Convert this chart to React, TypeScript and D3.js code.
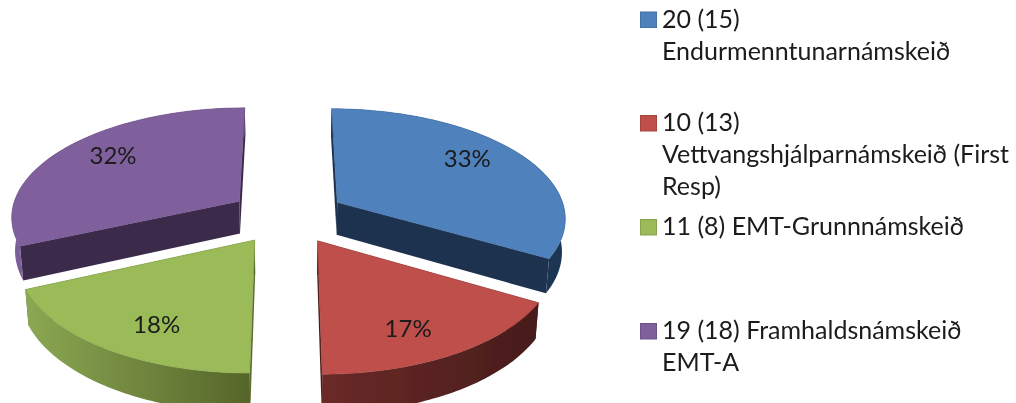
import { useEffect, useRef } from "react"
import * as d3 from "d3"

const categories = ["20 (15) Endurmenntunarnámskeið", "10 (13) Vettvangshjálparnámskeið (First Resp)", "11 (8) EMT-Grunnnámskeið", "19 (18) Framhaldsnámskeið EMT-A"]
const values = [20, 10, 11, 19]
const legendLines = [
  ["20 (15)", "Endurmenntunarnámskeið"],
  ["10 (13)", "Vettvangshjálparnámskeið (First", "Resp)"],
  ["11 (8) EMT-Grunnnámskeið"],
  ["19 (18) Framhaldsnámskeið", "EMT-A"],
]
const legendBaselines = [27.5, 131, 235, 339]
const topColors = ["#4F81BD", "#BE4F4B", "#9BBB59", "#7F609C"]
const radialWall = ["#1F3350", "#4A1F1D", "#5A6B2E", "#3B2A4A"]
const outerWallFrom = ["#1F3552", "#6A2A28", "#8BA853", "#7A5F9A"]
const outerWallTo = ["#1F3552", "#471C1B", "#566529", "#5F4680"]
const labelNudge = [[5, -10], [1, 13], [-1, 12], [-6, -9]]

const W = 1016
const H = 403
const cx = 287.5
const cy = 216
const rx = 229
const ry = 109
const k = 0.13
const explode = 0.255
const depth = 33
const depthShrink = 0.012

const project = (X: number, Y: number) => {
  const s = 1 / (1 - k * Y)
  return { x: cx + rx * X * s, y: cy + ry * Y * s, s }
}

const App = () => {
  const svgRef = useRef<SVGSVGElement>(null)

  useEffect(() => {
    const svg = d3.select(svgRef.current)
    svg.selectAll("*").remove()
    svg.attr("width", W).attr("height", H)

    const defs = svg.append("defs")
    const blur = defs.append("filter").attr("id", "soft")
    blur.append("feGaussianBlur").attr("stdDeviation", 0.45)

    const pie = d3.pie<number>().sort(null)
    const arcs = pie(values)
    const line = d3.line<[number, number]>()

    const root = svg.append("g").attr("filter", "url(#soft)")

    const slices = arcs.map((a, i) => {
      const mid = (a.startAngle + a.endAngle) / 2
      const ox = Math.sin(mid) * explode
      const oy = -Math.cos(mid) * explode
      const pt = (ang: number, f = 1) => project(ox + Math.sin(ang) * f, oy - Math.cos(ang) * f)
      const angles = d3.range(0, 61).map((t) => a.startAngle + ((a.endAngle - a.startAngle) * t) / 60)
      return { a, i, mid, pt, angles }
    })

    // back slices first so the front ones sit on top
    const order = [0, 3, 1, 2]
    order.forEach((idx) => {
      const { i, pt, angles } = slices[idx]
      const apex = pt(0, 0)
      const rim = angles.map((t) => pt(t))
      const top = (p: { x: number; y: number }): [number, number] => [p.x, p.y]
      const low = (p: { x: number; y: number; s: number }): [number, number] => [
        cx + (p.x - cx) * (1 - depthShrink),
        p.y + depth * p.s,
      ]

      const xs = rim.map((p) => p.x)
      const grad = defs
        .append("linearGradient")
        .attr("id", `wall${i}`)
        .attr("gradientUnits", "userSpaceOnUse")
        .attr("x1", d3.min(xs) as number)
        .attr("x2", d3.max(xs) as number)
        .attr("y1", 0)
        .attr("y2", 0)
      grad.append("stop").attr("offset", 0).attr("stop-color", outerWallFrom[i])
      grad.append("stop").attr("offset", 1).attr("stop-color", outerWallTo[i])

      const g = root.append("g").attr("class", "slice")

      // radial walls
      ;[rim[0], rim[rim.length - 1]].forEach((p) => {
        const quad: [number, number][] = [top(apex), top(p), low(p), low(apex)]
        g.append("path")
          .attr("d", line(quad) + "Z")
          .attr("fill", radialWall[i])
      })

      // outer wall
      const wall = [...rim.map(top), ...rim.slice().reverse().map(low)]
      g.append("path")
        .attr("d", line(wall) + "Z")
        .attr("fill", `url(#wall${i})`)

      // top face
      const face = [top(apex), ...rim.map(top)]
      g.append("path")
        .attr("d", line(face) + "Z")
        .attr("fill", topColors[i])
        .attr("stroke", d3.color(topColors[i])!.darker(0.3).formatHex())
        .attr("stroke-width", 0.6)
    })

    const pct = d3.format(".0%")
    const total = d3.sum(values)
    slices.forEach(({ i, mid, pt }) => {
      const p = pt(mid, 0.68)
      root
        .append("text")
        .attr("x", p.x + labelNudge[i][0])
        .attr("y", p.y + labelNudge[i][1])
        .attr("text-anchor", "middle")
        .attr("dominant-baseline", "central")
        .attr("font-family", "Lato, sans-serif")
        .attr("font-size", 24)
        .attr("fill", "#1a1a1a")
        .text(pct(values[i] / total))
    })

    // legend
    const legend = root.append("g").attr("font-family", "Lato, sans-serif").attr("font-size", 25).attr("fill", "#1a1a1a")
    categories.forEach((_, i) => {
      const base = legendBaselines[i]
      legend
        .append("rect")
        .attr("x", 640.5)
        .attr("y", base - 15.5)
        .attr("width", 16)
        .attr("height", 15.5)
        .attr("fill", topColors[i])
        .attr("stroke", d3.color(topColors[i])!.darker(0.4).formatHex())
        .attr("stroke-width", 1)
      legendLines[i].forEach((t, j) => {
        legend
          .append("text")
          .attr("x", 662)
          .attr("y", base + j * 32)
          .text(t)
      })
    })
  }, [])

  return <svg ref={svgRef} style={{ position: "fixed", left: 0, top: 0, background: "#fff" }}></svg>
}

export default App
